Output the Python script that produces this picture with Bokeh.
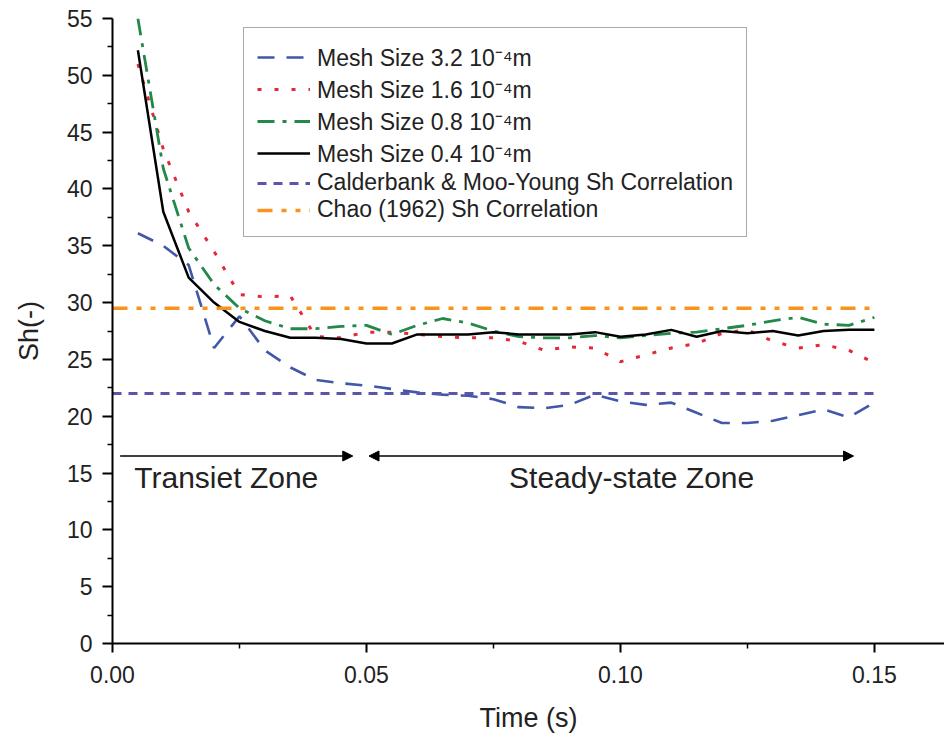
from bokeh.plotting import figure
from bokeh.models import (FixedTicker, NumeralTickFormatter, Legend, LegendItem,
                          Arrow, NormalHead, Label, Range1d)
from bokeh.embed import file_html
from bokeh.resources import INLINE

# ---------------- data ----------------
TIME = [0.005, 0.010, 0.015, 0.020, 0.025, 0.030, 0.035, 0.040, 0.045, 0.050,
        0.055, 0.060, 0.065, 0.070, 0.075, 0.080, 0.085, 0.090, 0.095, 0.100,
        0.105, 0.110, 0.115, 0.120, 0.125, 0.130, 0.135, 0.140, 0.145, 0.150]

SH_MESH_32 = [36.1, 35.0, 33.3, 26.0, 28.8, 25.8, 24.3, 23.2, 22.9, 22.7,
              22.4, 22.1, 21.9, 21.8, 21.5, 20.8, 20.7, 21.0, 21.9, 21.3,
              21.0, 21.2, 20.3, 19.4, 19.4, 19.6, 20.1, 20.6, 19.9, 21.2]

SH_MESH_16 = [51.0, 43.5, 38.0, 34.5, 30.7, 30.5, 30.6, 27.0, 26.9, 27.4,
              27.4, 27.2, 27.0, 26.9, 26.9, 26.6, 25.8, 26.1, 26.0, 24.8,
              25.4, 26.0, 26.4, 27.3, 27.6, 26.6, 26.0, 26.3, 25.8, 24.7]

SH_MESH_08 = [55.0, 41.8, 34.8, 31.6, 29.5, 28.4, 27.7, 27.7, 27.9, 28.0,
              27.2, 28.0, 28.6, 28.2, 27.5, 27.0, 26.9, 26.9, 27.1, 26.9,
              27.1, 27.3, 27.4, 27.7, 28.0, 28.4, 28.7, 28.1, 28.0, 28.7]

SH_MESH_04 = [52.2, 38.0, 32.2, 30.0, 28.3, 27.5, 26.9, 26.9, 26.8, 26.4,
              26.4, 27.2, 27.2, 27.2, 27.4, 27.2, 27.2, 27.2, 27.4, 27.0,
              27.2, 27.6, 27.0, 27.5, 27.3, 27.5, 27.1, 27.5, 27.6, 27.6]

CORR_TIME = [0.0, 0.15]
SH_CALDERBANK = [22.0, 22.0]
SH_CHAO = [29.5, 29.5]

SERIES_LABELS = ["Mesh Size 3.2 10\u207b\u2074m",
                 "Mesh Size 1.6 10\u207b\u2074m",
                 "Mesh Size 0.8 10\u207b\u2074m",
                 "Mesh Size 0.4 10\u207b\u2074m",
                 "Calderbank & Moo-Young Sh Correlation",
                 "Chao (1962) Sh Correlation"]

X_TICKS = [0.0, 0.05, 0.10, 0.15]
X_MINOR = [0.025, 0.075, 0.125]
Y_TICKS = [0, 5, 10, 15, 20, 25, 30, 35, 40, 45, 50, 55]
Y_MINOR = [2.5, 7.5, 12.5, 17.5, 22.5, 27.5, 32.5, 37.5, 42.5, 47.5, 52.5]

ZONE_NAMES = ["Transiet Zone", "Steady-state Zone"]
ZONE_START = [0.0015, 0.0505]
ZONE_END = [0.0473, 0.1459]
ZONE_LABEL_X = [0.0224, 0.1022]
ZONE_ARROW_SH = 16.5
ZONE_LABEL_SH = 14.6

FONT = "Liberation Sans"

# ---------------- figure ----------------
p = figure(width=944, height=736, output_backend="svg", toolbar_location=None,
           x_range=Range1d(0, 0.1638), y_range=Range1d(0, 55),
           min_border_left=112, min_border_right=0, min_border_top=18,
           min_border_bottom=93)
p.outline_line_color = None
p.xgrid.visible = False
p.ygrid.visible = False
p.background_fill_color = "white"
p.border_fill_color = "white"

r32 = p.line(TIME, SH_MESH_32, line_color="#4157A8", line_width=2.6, line_dash="17 12")
r16 = p.line(TIME, SH_MESH_16, line_color="#E4283A", line_width=3, line_dash="4 13")
r08 = p.line(TIME, SH_MESH_08, line_color="#23884A", line_width=2.8, line_dash="17 8 4 8")
r04 = p.line(TIME, SH_MESH_04, line_color="#000000", line_width=2.5)
rcb = p.line(CORR_TIME, SH_CALDERBANK, line_color="#5A57AA", line_width=3, line_dash="9 7")
rch = p.line(CORR_TIME, SH_CHAO, line_color="#F7931E", line_width=3.6, line_dash="15 9 5 9 5 9")

# axes
for ax in (p.xaxis[0], p.yaxis[0]):
    ax.axis_line_width = 2
    ax.axis_line_color = "black"
    ax.major_tick_line_width = 2
    ax.minor_tick_line_width = 1.5
    ax.major_tick_line_color = "black"
    ax.minor_tick_line_color = "black"
    ax.major_tick_in = 0
    ax.minor_tick_in = 0
    ax.major_label_text_font = FONT
    ax.axis_label_text_font = FONT
    ax.major_label_text_color = "#222222"
    ax.axis_label_text_color = "#222222"
    ax.axis_label_text_font_style = "normal"

p.xaxis.ticker = FixedTicker(ticks=X_TICKS, minor_ticks=X_MINOR)
p.xaxis.formatter = NumeralTickFormatter(format="0.00")
p.xaxis.major_tick_out = 9
p.xaxis.minor_tick_out = 5
p.xaxis.major_label_standoff = 13
p.xaxis.major_label_text_font_size = "23px"
p.xaxis.axis_label = "Time (s)"
p.xaxis.axis_label_text_font_size = "27px"
p.xaxis.axis_label_standoff = 17

p.yaxis.ticker = FixedTicker(ticks=Y_TICKS, minor_ticks=Y_MINOR)
p.yaxis.major_tick_out = 10
p.yaxis.minor_tick_out = 5
p.yaxis.major_label_standoff = 10
p.yaxis.major_label_text_font_size = "23px"
p.yaxis.axis_label = "Sh(-)"
p.yaxis.axis_label_text_font_size = "27px"
p.yaxis.axis_label_standoff = 20

# legend
items = [LegendItem(label=lab, renderers=[r]) for lab, r in
         zip(SERIES_LABELS, [r32, r16, r08, r04, rcb, rch])]
legend = Legend(items=items, location=(131, 406), orientation="vertical")
legend.label_text_font = FONT
legend.label_text_font_size = "23px"
legend.label_text_color = "#222222"
legend.label_standoff = 7
legend.glyph_width = 53
legend.glyph_height = 26
legend.label_height = 26
legend.spacing = 0
legend.padding = 13
legend.margin = 0
legend.border_line_color = "#555555"
legend.border_line_width = 1.5
legend.background_fill_color = "white"
legend.background_fill_alpha = 1.0
p.add_layout(legend)

# zone arrows and labels
for i, name in enumerate(ZONE_NAMES):
    start_head = NormalHead(size=10, fill_color="black", line_color="black", line_width=1) if i == 1 else None
    arr = Arrow(x_start=ZONE_START[i], y_start=ZONE_ARROW_SH,
                x_end=ZONE_END[i], y_end=ZONE_ARROW_SH,
                start=start_head,
                end=NormalHead(size=10, fill_color="black", line_color="black", line_width=1),
                line_width=1.5, line_color="black")
    p.add_layout(arr)
    p.add_layout(Label(x=ZONE_LABEL_X[i], y=ZONE_LABEL_SH, text=name,
                       text_align="center", text_baseline="middle",
                       text_font=FONT, text_font_size="30px", text_color="#222222"))

open("out.html", "w").write(file_html(p, INLINE))
